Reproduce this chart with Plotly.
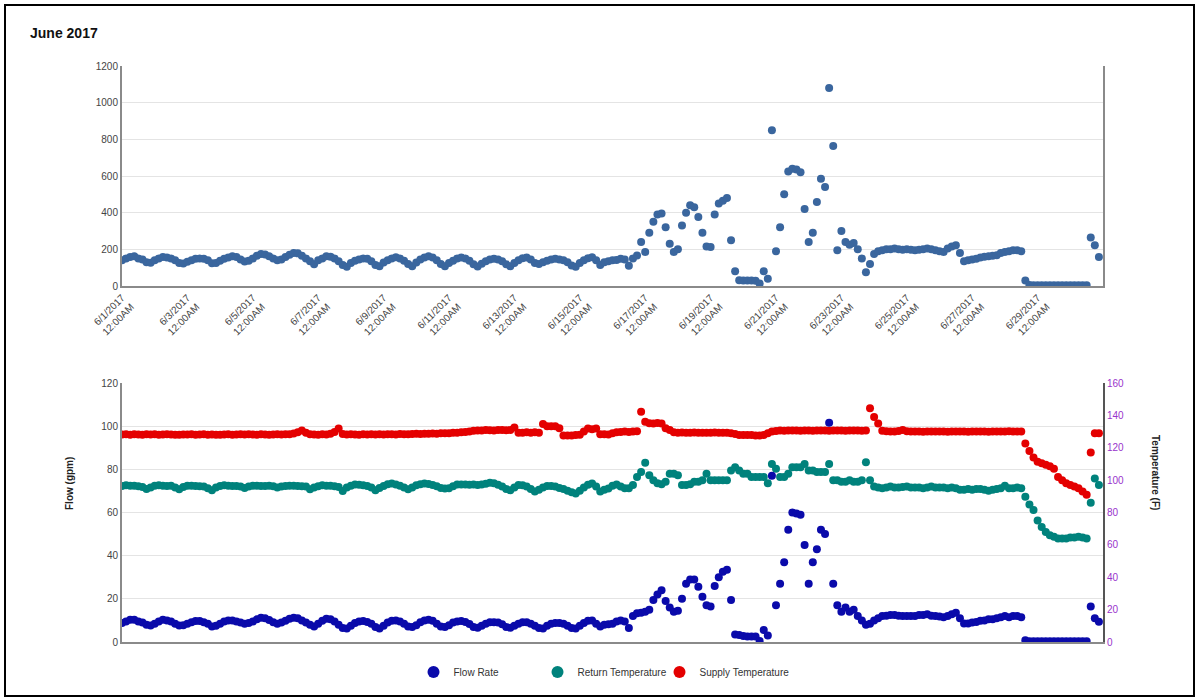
import plotly.graph_objects as go
import pandas as pd

W, H = 1197, 698

# 3-hourly readings, 6/1/2017 00:00 through 6/30/2017 21:00
times = pd.date_range("2017-06-01 00:00", periods=240, freq="3h")

# Top chart series (one row per day, 0h,3h,...,21h)
energy = [
    140, 150, 158, 162, 150, 145, 130, 127,
    140, 150, 158, 155, 150, 140, 125, 123,
    132, 140, 148, 150, 148, 140, 124, 125,
    138, 148, 155, 162, 158, 145, 133, 138,
    150, 165, 175, 172, 162, 150, 140, 145,
    158, 170, 180, 178, 165, 150, 135, 118,
    140, 150, 162, 160, 150, 135, 115, 105,
    125, 138, 145, 150, 148, 135, 115, 108,
    128, 140, 150, 157, 150, 138, 120, 108,
    128, 145, 155, 162, 155, 140, 120, 108,
    125, 138, 150, 155, 150, 138, 118, 106,
    122, 135, 145, 148, 145, 135, 118, 108,
    125, 140, 152, 155, 145, 125, 120, 130,
    138, 145, 148, 145, 140, 130, 112, 105,
    125, 140, 152, 157, 140, 115, 130, 135,
    140, 142, 148, 145, 110, 150, 167, 240,
    185, 290, 350, 390, 395, 320, 230, 185,
    200, 330, 400, 440, 430, 376, 290, 215,
    213, 390, 450, 465, 480, 250, 80, 32,
    30, 30, 30, 28, 13, 80, 40, 850,
    190, 320, 500, 625, 640, 635, 620, 420,
    240, 290, 458, 585, 540, 1080, 763, 195,
    300, 240, 225, 235, 200, 150, 75, 120,
    175, 190, 195, 200, 200, 205, 200, 198,
    200, 198, 195, 198, 200, 205, 200, 195,
    190, 185, 205, 215, 222, 180, 135, 140,
    145, 148, 155, 160, 162, 165, 168, 180,
    185, 190, 195, 195, 190, 30, 5, 4,
    4, 4, 4, 4, 4, 4, 4, 4,
    4, 4, 4, 4, 4, 264, 222, 158,
]

# Bottom chart: Flow Rate (gpm, left axis)
flow_rate = [
    8.8, 9.5, 10.3, 10.3, 9.5, 9.0, 8.0, 7.7,
    8.5, 9.5, 10.3, 10.0, 9.5, 8.5, 7.7, 7.8,
    8.5, 9.2, 9.7, 9.7, 9.2, 8.5, 7.2, 7.5,
    8.5, 9.5, 10.0, 10.0, 9.5, 9.0, 8.5, 8.8,
    9.5, 10.5, 11.2, 11.0, 10.2, 9.2, 8.5, 9.0,
    9.8, 10.8, 11.2, 11.0, 10.0, 9.0, 8.0, 7.2,
    8.5, 9.8, 10.8, 10.5, 9.5, 8.0, 6.5, 6.2,
    7.5, 8.8, 9.5, 9.7, 9.3, 8.5, 7.0, 6.2,
    7.5, 9.0, 9.8, 10.0, 9.5, 8.5, 7.2, 6.9,
    7.8, 9.2, 10.0, 10.3, 9.8, 8.5, 7.2, 6.9,
    7.8, 9.0, 9.5, 9.7, 9.3, 8.3, 7.0, 6.6,
    7.5, 8.5, 9.2, 9.2, 9.0, 8.2, 7.0, 6.6,
    7.5, 8.5, 9.2, 9.2, 8.5, 7.5, 6.5, 6.2,
    7.5, 8.5, 8.8, 8.8, 8.5, 7.5, 6.5, 6.2,
    7.5, 8.8, 9.8, 10.0, 8.5, 7.2, 8.0, 8.2,
    8.5, 9.5, 10.0, 9.5, 6.5, 12.0, 13.3, 13.5,
    14.0, 15.0, 19.5, 22.0, 24.0, 19.0, 16.0, 14.0,
    14.5, 20.0, 27.0, 29.0, 29.0, 25.6, 21.0, 17.0,
    16.4, 26.0, 30.0, 32.5, 33.5, 19.5, 3.5, 3.2,
    2.8, 2.5, 2.5, 2.5, 0.5, 5.6, 3.0, 77.0,
    17.0, 27.0, 37.0, 52.0, 60.0, 59.5, 59.0, 45.0,
    27.0, 37.0, 43.0, 52.0, 50.0, 101.6, 27.0, 17.0,
    14.0, 16.0, 14.0, 15.0, 12.0, 10.0, 8.0, 8.5,
    10.0, 11.0, 12.0, 12.2, 12.5, 12.5, 12.2, 12.0,
    12.0, 12.0, 12.0, 12.5, 12.5, 12.8, 12.2, 12.0,
    11.8, 11.5, 12.0, 12.8, 13.5, 11.0, 8.6, 8.6,
    9.0, 9.3, 9.8, 10.0, 10.5, 10.5, 11.0, 11.5,
    12.0, 11.5, 12.0, 12.0, 11.5, 0.8, 0.3, 0.3,
    0.3, 0.3, 0.3, 0.3, 0.3, 0.3, 0.3, 0.3,
    0.3, 0.3, 0.3, 0.3, 0.4, 16.4, 11.0, 9.4,
]

# Bottom chart: Return Temperature (F, right axis)
return_temp = [
    96.4, 96.8, 96.5, 96.6, 96.2, 95.8, 94.5, 95.5,
    96.5, 96.8, 96.6, 96.4, 96.5, 95.5, 94.4, 95.8,
    96.5, 96.6, 96.4, 96.2, 96.0, 95.0, 93.8, 95.5,
    96.4, 96.8, 96.6, 96.3, 96.4, 96.0, 95.2, 96.0,
    96.5, 96.6, 96.4, 96.4, 96.5, 96.2, 95.5, 96.0,
    96.4, 96.6, 96.5, 96.4, 96.2, 96.0, 94.4, 95.5,
    96.2, 96.8, 96.5, 96.6, 96.2, 95.8, 93.3, 95.5,
    96.6, 97.3, 97.2, 96.8, 96.4, 95.5, 93.7, 95.2,
    96.4, 97.5, 97.9, 97.3, 96.5, 95.5, 94.4, 95.5,
    96.8, 97.5, 97.9, 97.6, 97.0, 96.2, 95.2, 94.9,
    95.0, 96.2, 97.3, 97.3, 97.3, 97.2, 97.3, 97.0,
    97.3, 97.8, 98.4, 98.0, 97.2, 96.0, 94.5, 93.7,
    95.5, 97.0, 96.8, 96.0, 94.5, 92.9, 94.0, 95.5,
    96.4, 96.4, 96.0, 95.2, 94.5, 93.5, 92.5, 91.7,
    93.5, 95.5, 97.1, 97.9, 96.0, 93.0, 94.0, 94.9,
    96.5, 97.3, 96.0, 95.0, 95.0, 97.0, 102.0, 105.0,
    110.8, 103.0, 100.0, 98.0, 97.5, 99.0, 104.0, 104.0,
    103.0, 97.0, 97.0, 97.5, 99.0, 99.0, 100.0, 104.0,
    100.0, 100.0, 100.0, 100.0, 100.0, 106.0, 108.0, 106.0,
    104.0, 104.0, 102.0, 102.0, 102.0, 102.0, 98.0, 110.0,
    107.0, 102.0, 102.0, 104.0, 108.0, 108.0, 108.0, 110.0,
    106.0, 106.0, 105.0, 105.0, 105.0, 110.0, 100.0, 100.0,
    99.0, 99.0, 100.0, 99.0, 99.0, 100.0, 111.0, 100.0,
    96.0, 95.5, 95.0, 95.5, 96.0, 95.5, 95.5, 95.8,
    96.0, 95.5, 95.5, 95.5, 95.0, 95.5, 96.0, 95.5,
    95.5, 95.5, 95.0, 95.5, 95.0, 94.0, 94.0, 94.5,
    94.0, 94.5, 94.5, 94.0, 93.5, 94.0, 94.5, 95.0,
    96.5, 95.0, 95.0, 95.5, 95.0, 89.8, 85.0, 81.5,
    75.0, 71.0, 68.0, 66.0, 65.0, 64.0, 64.0, 64.0,
    64.5, 64.5, 65.0, 64.5, 64.0, 86.0, 101.0, 97.0,
]

# Bottom chart: Supply Temperature (F, right axis)
supply_temp = [
    128.2, 128.4, 128.1, 128.3, 128.2, 128.0, 128.3, 128.2,
    128.3, 128.1, 128.2, 128.4, 128.2, 128.1, 128.0, 128.2,
    128.2, 128.3, 128.1, 128.2, 128.3, 128.0, 128.2, 128.1,
    128.0, 128.2, 128.3, 128.1, 128.2, 128.4, 128.2, 128.3,
    128.2, 128.1, 128.3, 128.2, 128.0, 128.2, 128.3, 128.2,
    128.3, 128.4, 128.8, 129.5, 130.7, 129.3, 128.4, 128.2,
    128.1, 128.3, 128.2, 128.6, 129.8, 131.9, 128.5, 128.2,
    128.3, 128.2, 128.1, 128.3, 128.2, 128.4, 128.2, 128.3,
    128.2, 128.4, 128.3, 128.2, 128.5, 128.3, 128.4, 128.5,
    128.6, 128.5, 128.7, 128.6, 128.8, 128.7, 128.9, 129.0,
    129.0, 129.2, 129.3, 129.5, 129.8, 130.0, 130.5, 130.7,
    130.7, 130.9, 130.8, 130.7, 130.9, 131.0, 130.8, 131.0,
    132.5, 129.3, 129.3, 129.5, 129.3, 129.5, 129.3, 134.7,
    133.3, 133.3, 133.3, 132.0, 127.6, 127.6, 127.6, 127.8,
    128.0, 130.0, 131.9, 131.5, 131.9, 128.3, 128.3, 128.2,
    129.0, 129.5, 129.8, 130.0, 129.8, 130.0, 130.2, 142.3,
    136.0, 135.2, 135.0, 135.3, 135.0, 132.0, 131.0, 129.5,
    129.3, 129.4, 129.2, 129.3, 129.4, 129.3, 129.2, 129.3,
    129.3, 129.4, 129.2, 129.3, 129.3, 129.0, 128.5, 127.9,
    127.9, 127.8, 127.9, 127.6, 127.5, 127.9, 129.0, 130.0,
    130.4, 130.6, 130.5, 130.7, 130.6, 130.6, 130.5, 130.7,
    130.6, 130.5, 130.7, 130.6, 130.6, 130.5, 130.6, 130.7,
    130.6, 130.5, 130.6, 130.7, 130.6, 130.5, 130.6, 144.4,
    139.0, 135.0, 130.5, 130.2, 130.0, 130.0, 130.3, 131.0,
    130.2, 130.0, 130.1, 130.0, 129.9, 130.0, 130.1, 130.0,
    130.0, 130.1, 129.9, 130.0, 130.0, 130.1, 130.0, 129.9,
    130.0, 130.0, 130.1, 130.0, 129.9, 130.0, 130.1, 130.0,
    130.0, 130.2, 130.0, 130.1, 130.0, 122.7, 118.0, 114.0,
    111.4, 110.5, 109.5, 108.5, 107.0, 102.0, 100.0, 98.0,
    97.0, 96.0, 95.0, 93.0, 91.0, 117.0, 129.0, 129.0,
]

tick_dates = pd.date_range("2017-06-01", "2017-06-29", freq="2D")
tick_labels = [f"{d.month}/{d.day}/{d.year}<br>12:00AM" for d in tick_dates]

FONT = "Liberation Sans, Arial, sans-serif"


def fx(px):
    return px / W


def fy(py):
    return 1 - py / H


X0, X1 = 122, 1103
TOP = (66, 286)
BOT = (383, 642)
MS = 8

fig = go.Figure()

fig.add_trace(go.Scatter(
    x=times, y=energy, mode="markers", showlegend=False,
    marker=dict(color="#3A669E", size=MS), xaxis="x", yaxis="y",
    hoverinfo="x+y"))

fig.add_trace(go.Scatter(
    x=times, y=return_temp, mode="markers", name="Return Temperature",
    marker=dict(color="#00827C", size=MS), xaxis="x2", yaxis="y2",
    legend="legend2"))
fig.add_trace(go.Scatter(
    x=times, y=supply_temp, mode="markers", name="Supply Temperature",
    marker=dict(color="#E40000", size=MS), xaxis="x2", yaxis="y2",
    legend="legend3"))
fig.add_trace(go.Scatter(
    x=times, y=flow_rate, mode="markers", name="Flow Rate",
    marker=dict(color="#0A0AAA", size=MS), xaxis="x2", yaxis="y3",
    legend="legend"))

xrange = ["2017-06-01 00:00", "2017-07-01 00:00"]
tickfont = dict(family=FONT, size=10, color="#444444")
legfont = dict(family=FONT, size=10, color="#333333")


def legend_at(marker_px):
    return dict(orientation="h", x=fx(marker_px - 23.5), y=fy(672),
                xanchor="left", yanchor="middle", font=legfont,
                itemsizing="constant", bgcolor="rgba(0,0,0,0)",
                borderwidth=0)


fig.update_layout(
    template="none",
    width=W, height=H, autosize=False,
    margin=dict(l=0, r=0, t=0, b=0, pad=0, autoexpand=False),
    paper_bgcolor="white", plot_bgcolor="white",
    font=dict(family=FONT, size=10, color="#333333"),
    xaxis=dict(
        domain=[fx(X0), fx(X1)], range=xrange, type="date",
        tickvals=list(tick_dates), ticktext=tick_labels, tickangle=-45,
        tickfont=tickfont, showgrid=False, zeroline=False,
        showline=True, linecolor="#8a8a8a", linewidth=2, ticks="",
        automargin=False, anchor="y"),
    yaxis=dict(
        domain=[fy(TOP[1]), fy(TOP[0])], range=[0, 1200], dtick=200,
        tickfont=tickfont, showgrid=True, gridcolor="#e4e4e4",
        zeroline=False, showline=True, linecolor="#8a8a8a", linewidth=2,
        mirror=True, ticks="", automargin=False, anchor="x"),
    xaxis2=dict(
        domain=[fx(X0), fx(X1)], range=xrange, type="date",
        showticklabels=False, showgrid=False, zeroline=False,
        showline=True, linecolor="#8a8a8a", linewidth=2, ticks="",
        automargin=False, anchor="y3"),
    yaxis2=dict(
        domain=[fy(BOT[1]), fy(BOT[0])], range=[0, 160], dtick=20,
        side="right", anchor="x2",
        tickfont=dict(family=FONT, size=10, color="#9933CC"),
        showgrid=False, zeroline=False, showline=True,
        linecolor="#555555", linewidth=2, ticks="", automargin=False),
    yaxis3=dict(
        range=[0, 120], dtick=20, overlaying="y2", side="left",
        anchor="x2", tickfont=tickfont, showgrid=True,
        gridcolor="#e4e4e4", zeroline=False, showline=True,
        linecolor="#8a8a8a", linewidth=2, ticks="", automargin=False),
    legend=legend_at(437),
    legend2=legend_at(561),
    legend3=legend_at(683),
    annotations=[
        dict(text="<b>June 2017</b>", x=fx(28), y=fy(33), xref="paper",
             yref="paper", xanchor="left", yanchor="middle",
             showarrow=False, font=dict(family=FONT, size=14,
                                        color="#111111")),
        dict(text="<b>Flow (gpm)</b>", x=fx(62), y=fy(512), xref="paper",
             yref="paper", textangle=-90, showarrow=False,
             font=dict(family=FONT, size=10, color="#222222")),
        dict(text="<b>Temperature (F)</b>", x=fx(1163), y=fy(512),
             xref="paper", yref="paper", textangle=90, showarrow=False,
             font=dict(family=FONT, size=10, color="#222222")),
    ],
    shapes=[
        dict(type="rect", xref="paper", yref="paper",
             x0=fx(5), x1=fx(1194), y0=fy(696), y1=fy(5),
             line=dict(color="black", width=2)),
    ],
)

fig.write_html("out.html")
